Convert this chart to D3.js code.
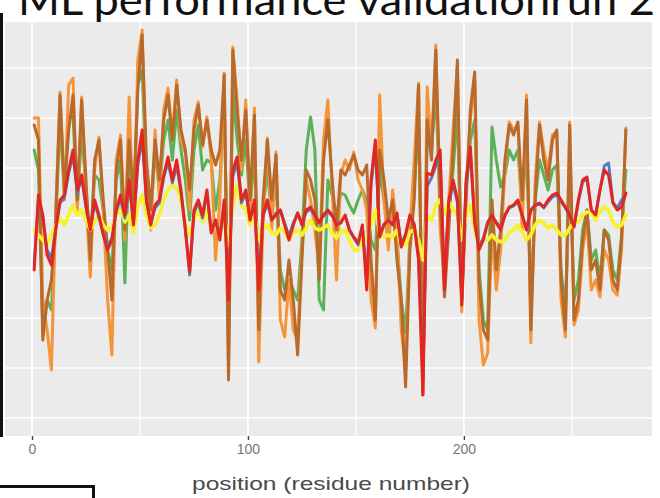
<!DOCTYPE html>
<html>
<head>
<meta charset="utf-8">
<script src="https://cdn.jsdelivr.net/npm/d3@7"></script>
<style>
  html, body { margin: 0; padding: 0; background: #ffffff; }
  svg { display: block; }
</style>
</head>
<body>
<svg id="chart" width="660" height="498"></svg>
<script>
// Residue positions sampled along the sequence
const positions = d3.range(1, 276, 2);

const xTicks = [0, 100, 200];
const xMinorTicks = [50, 150, 250];
const yGrid = [-2, -1.5, -1, -0.5, 0, 0.5, 1, 1.5];

const titleText = "ML performance validationrun 2";
const xLabelText = "position (residue number)";

// Per-residue scores for each model
const brownScores = [
  0.93, 0.78, -1.22, -0.82, -0.62, -0.02, 1.23, 0.28, 0.88, 1.23,
  0.18, 1.18, 0.38, -0.42, 0.58, 0.78, 0.18, -0.32, -0.82, 0.48,
  0.78, -0.12, 0.78, 0.18, 1.28, 1.83, 0.58, 0.08, 0.78, 0.38,
  0.98, 1.23, 0.78, 1.33, 0.88, 0.68, 0.28, 0.88, 1.13, 0.73,
  0.98, 0.68, 0.53, 0.68, 1.43, -1.62, 1.68, 1.08, 0.58, 1.08,
  0.18, 1.03, -1.12, 0.18, 0.78, 0.18, 0.63, -0.72, -0.82, -0.42,
  -0.82, -1.37, -0.42, 0.48, 0.38, 0.18, -0.62, 0.58, 0.98, 0.38,
  -0.12, 0.48, 0.43, 0.53, 0.63, 0.48, 0.43, 0.53, -0.42, -1.02,
  0.68, 0.38, -0.02, 0.18, -0.42, -0.82, -1.69, -0.32, 0.18, 1.33,
  -1.77, 0.98, 0.58, 1.68, 0.18, -0.79, -0.12, 0.68, 1.58, -0.82,
  0.18, 1.08, 1.46, -0.62, -1.12, -1.22, 0.18, -0.52, -0.12, 0.58,
  0.93, 0.83, 0.96, 0.18, 1.18, -1.12, 0.18, 0.93, 0.58, 0.38,
  0.78, 0.88, -0.62, -1.12, 0.93, -1.02, -0.82, -0.22, 0.08, -0.52,
  -0.42, -0.72, -0.12, -0.22, -0.62, -0.72, -0.22, 0.88
];

const orangeScores = [
  1.00, 1.00, -0.82, -1.12, -1.52, 0.08, 1.26, 0.18, 1.33, 1.40,
  0.08, 1.21, 0.18, -0.59, 0.48, 0.81, 0.08, -0.82, -1.37, 0.58,
  0.83, -0.22, 1.21, -0.12, 1.58, 1.88, 0.38, -0.12, 0.88, 0.18,
  1.08, 1.30, 0.81, 1.38, 0.78, 0.65, 0.08, 0.98, 1.16, 0.71,
  1.01, 0.58, -0.42, 0.18, 1.45, -1.52, 1.71, 1.18, 0.48, 1.18,
  0.08, 1.10, -1.44, -0.02, 0.80, -0.12, 0.66, -1.02, -1.19, -0.62,
  -1.12, -1.22, -0.32, 0.38, 0.18, -0.12, -0.52, 0.78, 1.18, 0.28,
  -0.62, 0.43, 0.58, 0.48, 0.66, 0.38, 0.28, 0.08, -0.82, -1.10,
  1.23, 0.18, -0.32, 0.28, -0.12, -1.12, -1.52, -0.12, 0.58, 1.35,
  -1.62, 1.31, 0.68, 1.73, -0.12, -0.62, 0.18, 0.88, 1.53, -0.94,
  0.28, 0.98, 1.38, -1.02, -1.47, -1.35, -0.12, -0.72, -0.32, 0.48,
  0.96, 0.88, 0.93, -0.12, 1.23, -1.25, 0.38, 0.96, 0.68, 0.48,
  0.83, 0.86, -0.82, -1.19, 0.96, -1.07, -0.92, -0.32, -0.02, -0.72,
  -0.62, -0.79, -0.32, -0.42, -0.72, -0.77, -0.32, 0.90
];

const greenScores = [
  0.68, 0.48, -1.12, -0.82, -0.92, -0.02, 0.98, 0.23, 1.01, 1.01,
  0.13, 0.88, 0.28, -0.22, 0.43, 0.38, 0.08, -0.32, -0.52, 0.38,
  0.58, -0.65, 0.68, -0.02, 1.33, 1.48, 0.38, -0.02, 0.68, 0.28,
  0.78, 0.98, 0.58, 1.08, 0.68, 0.38, -0.02, 0.68, 0.93, 0.48,
  0.58, 0.55, 0.08, 0.38, 1.18, -1.12, 1.28, 0.78, 0.43, 0.78,
  0.08, 0.68, -0.82, 0.08, 0.48, 0.03, 0.38, -0.52, -0.72, -0.62,
  -0.72, -0.82, -0.22, 0.68, 1.01, 0.68, -0.82, -0.92, 0.38, 0.23,
  0.03, 0.25, 0.23, 0.13, 0.05, 0.18, 0.28, 0.18, -0.22, -0.32,
  0.48, 0.18, -0.12, 0.08, -0.22, -0.82, -1.15, -0.22, 0.28, 0.98,
  -1.32, 0.81, 0.68, 1.28, 0.08, -0.62, 0.08, 0.48, 1.08, -0.82,
  0.28, 0.78, 0.98, -0.52, -1.02, -1.12, 0.91, 0.58, 0.31, 0.43,
  0.68, 0.58, 0.68, 0.08, 0.78, -0.82, 0.18, 0.58, 0.43, 0.28,
  0.48, 0.53, -0.52, -0.92, 0.48, -0.82, -0.62, -0.12, 0.08, -0.42,
  -0.32, -0.62, -0.12, -0.17, -0.52, -0.62, -0.17, 0.48
];

const redScores = [
  -0.52, 0.23, 0.03, -0.37, -0.47, -0.12, 0.18, 0.23, 0.48, 0.68,
  0.28, 0.43, 0.13, -0.12, 0.18, 0.03, -0.17, -0.32, -0.22, 0.08,
  0.23, 0.03, 0.38, -0.07, 0.58, 0.88, 0.18, -0.07, 0.13, 0.18,
  0.43, 0.61, 0.38, 0.58, 0.28, -0.12, -0.54, 0.08, 0.18, 0.03,
  0.28, -0.15, -0.02, -0.22, 0.18, -0.82, 0.48, 0.61, 0.18, 0.28,
  -0.02, 0.18, -0.72, 0.03, 0.18, -0.02, 0.03, 0.08, -0.07, -0.22,
  -0.07, 0.05, -0.07, 0.08, 0.11, 0.03, -0.05, 0.03, 0.08, 0.03,
  -0.07, -0.05, 0.03, -0.12, -0.19, -0.25, -0.07, -0.72, 0.38, 0.78,
  -0.19, -0.07, -0.02, -0.07, 0.05, -0.29, -0.17, 0.03, -0.07, -0.42,
  -1.77, 0.45, 0.43, 0.58, 0.68, -0.72, 0.18, 0.38, 0.18, -0.87,
  0.38, 0.71, -0.05, -0.32, -0.22, -0.05, 0.03, -0.05, -0.12, 0.03,
  0.11, 0.13, 0.18, 0.03, -0.12, 0.08, 0.13, 0.15, 0.11, 0.18,
  0.23, 0.25, 0.18, 0.11, 0.03, -0.09, 0.18, 0.38, 0.41, 0.08,
  0.03, 0.28, 0.48, 0.43, 0.15, 0.08, 0.11, 0.25
];

const blueScores = [
  -0.45, 0.20, 0.00, -0.32, -0.40, -0.10, 0.15, 0.20, 0.45, 0.62,
  0.25, 0.40, 0.10, -0.10, 0.15, 0.00, -0.15, -0.28, -0.20, 0.06,
  0.20, 0.00, 0.35, -0.05, 0.52, 0.80, 0.15, -0.05, 0.10, 0.15,
  0.40, 0.56, 0.35, 0.52, 0.25, -0.10, -0.57, 0.05, 0.15, 0.00,
  0.25, -0.12, -0.02, -0.18, 0.15, -0.70, 0.42, 0.55, 0.15, 0.25,
  -0.02, 0.15, -0.62, 0.02, 0.15, -0.02, 0.05, 0.08, -0.05, -0.18,
  -0.05, 0.05, -0.05, 0.06, 0.09, 0.02, -0.04, 0.02, 0.06, 0.02,
  -0.06, -0.04, 0.02, -0.12, -0.20, -0.27, -0.08, -0.62, 0.32, 0.70,
  -0.17, -0.06, -0.02, -0.06, 0.04, -0.26, -0.16, 0.02, -0.06, -0.38,
  -1.60, 0.32, 0.40, 0.52, 0.62, -0.65, 0.15, 0.34, 0.15, -0.78,
  0.34, 0.65, -0.04, -0.28, -0.20, -0.04, 0.02, -0.04, -0.10, 0.02,
  0.10, 0.12, 0.16, 0.02, -0.10, 0.07, 0.12, 0.14, 0.10, 0.16,
  0.21, 0.23, 0.16, 0.10, 0.02, -0.08, 0.16, 0.36, 0.39, 0.08,
  0.03, 0.28, 0.52, 0.55, 0.16, 0.10, 0.18, 0.24
];

const yellowScores = [
  -0.12, -0.17, -0.22, -0.27, -0.17, -0.07, 0.00, -0.07, 0.03, 0.13,
  0.03, 0.08, -0.02, -0.12, -0.04, 0.03, -0.07, -0.12, -0.09, 0.03,
  0.08, -0.04, 0.03, -0.15, 0.13, 0.23, 0.03, -0.10, -0.07, 0.03,
  0.18, 0.28, 0.33, 0.30, 0.18, -0.07, -0.17, -0.02, 0.08, -0.04,
  0.08, -0.12, -0.07, -0.17, 0.03, -0.27, 0.13, 0.33, 0.13, 0.08,
  -0.07, 0.03, -0.22, -0.12, -0.07, -0.15, -0.17, -0.10, -0.14, -0.22,
  -0.14, -0.12, -0.17, -0.10, -0.02, -0.10, -0.12, -0.10, -0.07, -0.15,
  -0.20, -0.14, -0.12, -0.22, -0.32, -0.32, -0.22, -0.22, -0.07, 0.08,
  -0.15, -0.19, -0.17, -0.19, -0.12, -0.27, -0.27, -0.14, -0.12, -0.22,
  -0.42, 0.03, -0.02, 0.13, 0.18, 0.03, 0.18, 0.08, 0.03, -0.22,
  0.03, 0.13, -0.12, -0.27, -0.22, -0.22, -0.17, -0.22, -0.24, -0.22,
  -0.14, -0.12, -0.07, -0.14, -0.22, -0.17, -0.07, -0.02, -0.05, -0.10,
  -0.07, -0.12, -0.17, -0.17, -0.10, -0.05, -0.04, 0.03, 0.06, 0.05,
  -0.02, 0.06, 0.11, 0.08, -0.04, -0.09, -0.07, 0.03
];

// Drawing order: bottom to top
const seriesList = [
  { name: "green",  values: greenScores,  color: "#5bb155", width: 3.0 },
  { name: "orange", values: orangeScores, color: "#f5953a", width: 3.0 },
  { name: "brown",  values: brownScores,  color: "#b8692c", width: 3.0 },
  { name: "yellow", values: yellowScores, color: "#f7f22c", width: 3.6 },
  { name: "blue",   values: blueScores,   color: "#4f7cc4", width: 2.8 },
  { name: "red",    values: redScores,    color: "#e3261f", width: 3.0 }
];

const svg = d3.select("#chart");
const panel = { left: 5, right: 652, top: 22, bottom: 436 };

const x = d3.scaleLinear().domain([-12.5, 287.1]).range([panel.left, panel.right]);
const y = d3.scaleLinear().domain([-2.18, 1.96]).range([panel.bottom, panel.top]);

// Panel background
svg.append("rect")
  .attr("x", panel.left).attr("y", panel.top)
  .attr("width", panel.right - panel.left).attr("height", panel.bottom - panel.top)
  .attr("fill", "#ebebeb");

// Grid lines
const grid = svg.append("g");
grid.selectAll(".hg").data(yGrid).join("line")
  .attr("x1", panel.left).attr("x2", panel.right)
  .attr("y1", d => y(d)).attr("y2", d => y(d))
  .attr("stroke", "#ffffff").attr("stroke-width", 1.6);
grid.selectAll(".vminor").data(xMinorTicks).join("line")
  .attr("y1", panel.top).attr("y2", panel.bottom)
  .attr("x1", d => x(d)).attr("x2", d => x(d))
  .attr("stroke", "#ffffff").attr("stroke-width", 1.2);
grid.selectAll(".vmajor").data(xTicks).join("line")
  .attr("y1", panel.top).attr("y2", panel.bottom)
  .attr("x1", d => x(d)).attr("x2", d => x(d))
  .attr("stroke", "#ffffff").attr("stroke-width", 1.8);

// Series lines
svg.append("clipPath").attr("id", "panel-clip")
  .append("rect")
  .attr("x", panel.left).attr("y", panel.top - 10)
  .attr("width", panel.right - panel.left).attr("height", panel.bottom - panel.top + 10);

const line = d3.line()
  .x(d => x(d[0]))
  .y(d => y(d[1]));

const lines = svg.append("g").attr("clip-path", "url(#panel-clip)");
seriesList.forEach(s => {
  lines.append("path")
    .datum(positions.map((p, i) => [p, s.values[i]]))
    .attr("fill", "none")
    .attr("stroke", s.color)
    .attr("stroke-width", s.width)
    .attr("stroke-linejoin", "round")
    .attr("stroke-linecap", "round")
    .attr("d", line);
});

// X axis
const xAxis = d3.axisBottom(x).tickValues(xTicks).tickSize(4).tickPadding(4);
const axisG = svg.append("g")
  .attr("transform", `translate(0,${panel.bottom})`)
  .call(xAxis);
axisG.select(".domain").remove();
axisG.selectAll(".tick line").attr("stroke", "#444").attr("stroke-width", 1.4);
axisG.selectAll(".tick text")
  .attr("fill", "#777")
  .attr("font-family", "'Liberation Sans', Arial, sans-serif")
  .attr("font-size", 14);

svg.append("text")
  .attr("x", 331).attr("y", 490)
  .attr("text-anchor", "middle")
  .attr("font-family", "'Liberation Sans', Arial, sans-serif")
  .attr("font-size", 19)
  .attr("fill", "#4a4a4a")
  .attr("textLength", 278)
  .attr("lengthAdjust", "spacingAndGlyphs")
  .text(xLabelText);

// Title
svg.append("text")
  .attr("x", 18).attr("y", 15)
  .attr("font-family", "Lato, 'Open Sans', sans-serif")
  .attr("font-size", 42)
  .attr("fill", "#111")
  .attr("textLength", 637)
  .attr("lengthAdjust", "spacingAndGlyphs")
  .text(titleText);

// Slide frame pieces around the chart
svg.append("rect")
  .attr("x", 0).attr("y", 13).attr("width", 3).attr("height", 424)
  .attr("fill", "#111");
svg.append("path")
  .attr("d", "M0,486.5H93.5V498")
  .attr("fill", "none")
  .attr("stroke", "#111")
  .attr("stroke-width", 3);
</script>
</body>
</html>
